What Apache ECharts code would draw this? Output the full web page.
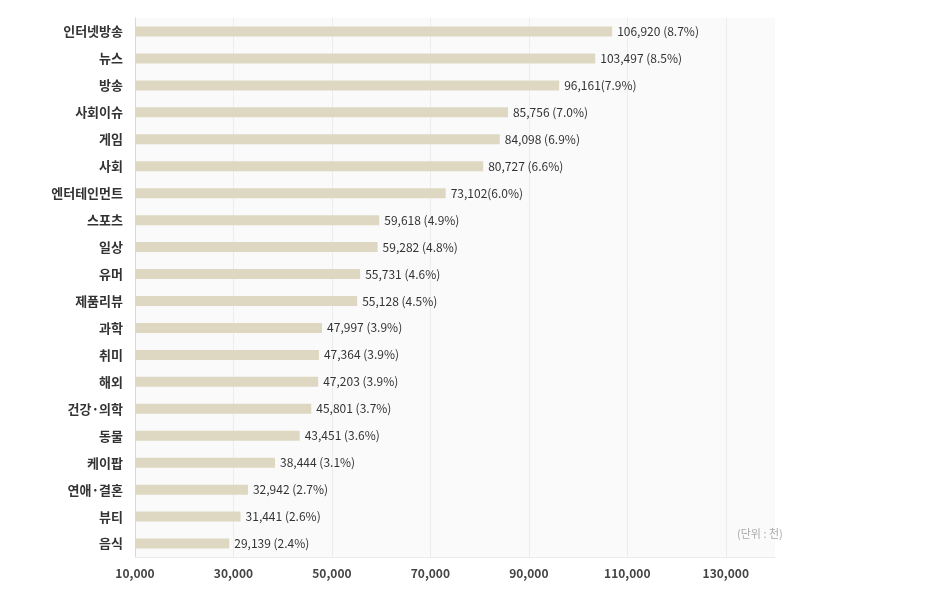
<!DOCTYPE html>
<html><head><meta charset="utf-8">
<script src="https://cdn.jsdelivr.net/npm/echarts@6/dist/echarts.min.js"></script>
<style>html,body{margin:0;padding:0;background:#fff}#c{width:945px;height:596px}</style>
</head><body><div id="c"></div>
<script>
const categories = ['인터넷방송','뉴스','방송','사회이슈','게임','사회','엔터테인먼트','스포츠','일상','유머','제품리뷰','과학','취미','해외','건강·의학','동물','케이팝','연애·결혼','뷰티','음식'];
const values = [106920,103497,96161,85756,84098,80727,73102,59618,59282,55731,55128,47997,47364,47203,45801,43451,38444,32942,31441,29139];
const percentTexts = [' (8.7%)',' (8.5%)','(7.9%)',' (7.0%)',' (6.9%)',' (6.6%)','(6.0%)',' (4.9%)',' (4.8%)',' (4.6%)',' (4.5%)',' (3.9%)',' (3.9%)',' (3.9%)',' (3.7%)',' (3.6%)',' (3.1%)',' (2.7%)',' (2.6%)',' (2.4%)'];
const xMin = 10000, xMax = 140000, xStep = 20000;
const unitNote = '(단위 : 천)';

const font = '"Noto Sans CJK KR", "Noto Sans", sans-serif';
const chart = echarts.init(document.getElementById('c'), null, {renderer:'canvas'});
chart.setOption({
  animation:false,
  textStyle:{fontFamily:font},
  grid:{left:135,right:170,top:18,bottom:39,show:true,backgroundColor:'#fafafa',borderWidth:0,containLabel:false},
  xAxis:{type:'value',min:xMin,max:xMax,interval:xStep,
    axisLine:{show:true,lineStyle:{color:'#ececec',width:1}},axisTick:{show:false},
    splitLine:{show:true,showMaxLine:false,showMinLine:false,lineStyle:{color:'#ececec',width:1}},
    axisLabel:{showMaxLabel:false,margin:10,color:'#444',fontWeight:'bold',fontSize:12,fontFamily:font,
      formatter:v=>v.toLocaleString('en-US')}
  },
  yAxis:{type:'category',data:categories,inverse:true,
    axisLine:{show:true,lineStyle:{color:'#d8d8d8',width:1}},axisTick:{show:false},
    axisLabel:{margin:12,color:'#333',fontWeight:'bold',fontSize:13,fontFamily:font}
  },
  series:[{type:'bar',data:values,barWidth:10,
    itemStyle:{color:'#ded8c3'},
    label:{show:true,position:'right',distance:5,color:'#333',fontSize:12,fontFamily:font,
      formatter:p=>values[p.dataIndex].toLocaleString('en-US')+percentTexts[p.dataIndex]}
  }],
  graphic:[{type:'text',left:737,top:528,style:{text:unitNote,fill:'#aaa',fontSize:11,fontFamily:font}}]
});
</script></body></html>
